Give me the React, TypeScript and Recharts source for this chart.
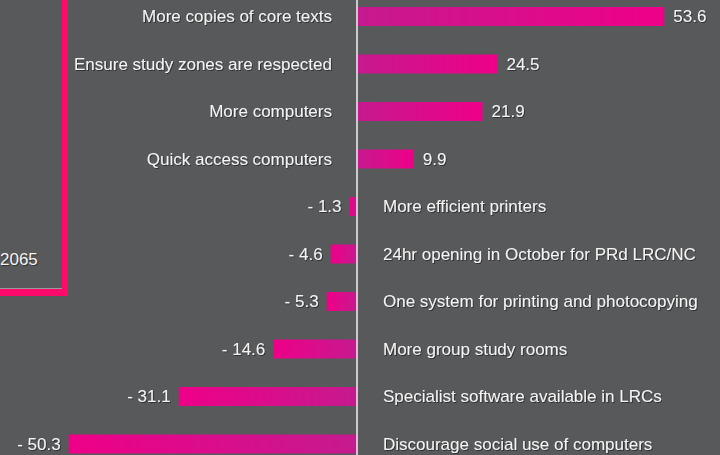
import React from 'react';
import { BarChart, Bar, XAxis, YAxis, Cell, LabelList, ReferenceLine } from 'recharts';

const categories = [
  'More copies of core texts',
  'Ensure study zones are respected',
  'More computers',
  'Quick access computers',
  'More efficient printers',
  '24hr opening in October for PRd LRC/NC',
  'One system for printing and photocopying',
  'More group study rooms',
  'Specialist software available in LRCs',
  'Discourage social use of computers',
];

const scores = [53.6, 24.5, 21.9, 9.9, -1.3, -4.6, -5.3, -14.6, -31.1, -50.3];

const boxLabel = '2065';

const data = categories.map((name, i) => ({ name, score: scores[i] }));

const BG = '#58595b';
const TEXT = '#f4f4f4';
const FONT = '"Liberation Sans", Arial, sans-serif';

// category text on the zero-line side, value just past the bar end
const RowLabel = (props: any) => {
  const { x, y, width, height, index } = props;
  const value = scores[index];
  const left = Math.min(x, x + width);
  const right = Math.max(x, x + width);
  const cy = y + height / 2;
  const zeroX = value >= 0 ? left : right;
  const endX = value >= 0 ? right : left;
  const valueText = value < 0 ? `- ${Math.abs(value).toFixed(1)}` : value.toFixed(1);
  return (
    <g filter="url(#txtShadow)" fontFamily={FONT} fontSize={17} fill={TEXT}>
      <text
        x={value >= 0 ? zeroX - 25 : zeroX + 26}
        y={cy}
        dy="0.35em"
        textAnchor={value >= 0 ? 'end' : 'start'}
      >
        {categories[index]}
      </text>
      <text
        x={value >= 0 ? endX + 9 : endX - 8}
        y={cy}
        dy="0.35em"
        textAnchor={value >= 0 ? 'start' : 'end'}
      >
        {valueText}
      </text>
    </g>
  );
};

const App: React.FC = () => {
  return (
    <div
      style={{
        position: 'absolute',
        left: 0,
        top: 0,
        width: 720,
        height: 455,
        overflow: 'hidden',
        background: BG,
      }}
    >
      {/* pink annotation box, cropped at the left */}
      <div
        style={{
          position: 'absolute',
          left: -20,
          top: -20,
          width: 82,
          height: 309,
          borderRight: '6px solid #ff0a6b',
          borderBottom: '7px solid #ff0a6b',
        }}
      >
        <div
          style={{
            position: 'absolute',
            left: 0,
            right: 0,
            bottom: 0,
            height: 1,
            background: '#9a9a9c',
          }}
        />
      </div>
      <div
        style={{
          position: 'absolute',
          left: 0,
          top: 250,
          fontFamily: FONT,
          fontSize: 17,
          color: TEXT,
          textShadow: '1px 1px 1px rgba(0,0,0,0.45)',
        }}
      >
        {boxLabel}
      </div>

      <div style={{ position: 'absolute', left: 0, top: -7 }}>
        <BarChart
          width={720}
          height={475}
          data={data}
          layout="vertical"
          margin={{ top: 0, right: 19, bottom: 0, left: 13 }}
        >
          <defs>
            <linearGradient id="gradPos" x1="0" y1="0" x2="1" y2="0">
              <stop offset="0%" stopColor="#c61a8f" />
              <stop offset="100%" stopColor="#ee0088" />
            </linearGradient>
            <linearGradient id="gradNeg" x1="0" y1="0" x2="1" y2="0">
              <stop offset="0%" stopColor="#ee0088" />
              <stop offset="100%" stopColor="#c61a8f" />
            </linearGradient>
            <filter id="txtShadow" x="-5%" y="-30%" width="110%" height="160%">
              <feDropShadow dx="1" dy="1" stdDeviation="0.6" floodColor="#000" floodOpacity="0.45" />
            </filter>
          </defs>
          <XAxis type="number" domain={[-60, 60]} hide />
          <YAxis type="category" dataKey="name" hide />
          <ReferenceLine x={0} stroke="#f2f2f2" strokeWidth={1.5} ifOverflow="extendDomain" />
          <Bar dataKey="score" barSize={19} isAnimationActive={false}>
            {data.map((d, i) => (
              <Cell key={i} fill={d.score >= 0 ? 'url(#gradPos)' : 'url(#gradNeg)'} />
            ))}
            <LabelList dataKey="score" content={<RowLabel />} />
          </Bar>
        </BarChart>
      </div>
    </div>
  );
};

export default App;
